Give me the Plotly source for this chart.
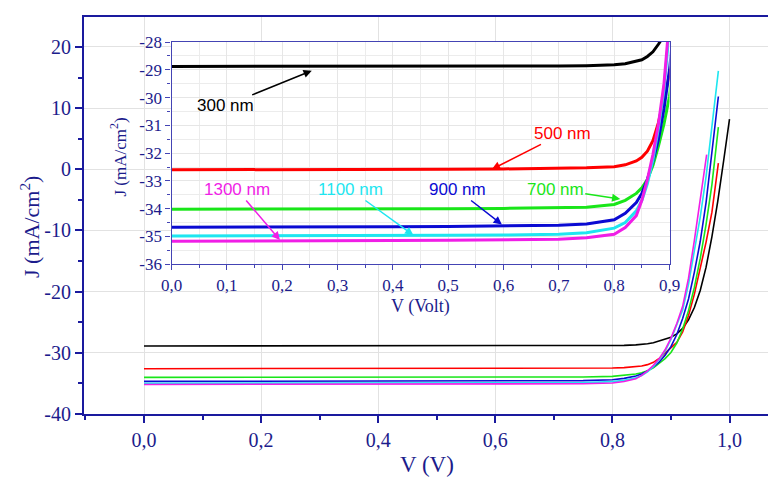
import plotly.graph_objects as go

# ---------------- data ----------------
labels = ["300 nm", "500 nm", "700 nm", "900 nm", "1100 nm", "1300 nm"]
colors = ["#000000", "#ff0000", "#19e619", "#0a0ad2", "#1ee6f0", "#f01ee6"]

V_300 = [0.0, 0.1, 0.2, 0.3, 0.4, 0.5, 0.6, 0.7, 0.75, 0.8, 0.82, 0.84, 0.85, 0.86, 0.87, 0.88, 0.89,
         0.90, 0.91, 0.92, 0.93, 0.94, 0.95, 0.96, 0.97, 0.98, 0.99, 1.0]
J_300 = [-28.88, -28.88, -28.88, -28.88, -28.88, -28.87, -28.87, -28.86, -28.85, -28.82, -28.78, -28.70,
         -28.64, -28.52, -28.35, -28.08, -27.75, -27.45, -26.9, -26.0, -24.6, -22.6, -19.8, -16.0, -11.0,
         -5.2, 1.4, 8.2]

V_500 = [0.0, 0.1, 0.2, 0.3, 0.4, 0.5, 0.6, 0.7, 0.75, 0.8, 0.82, 0.84, 0.85, 0.86, 0.87, 0.88, 0.89,
         0.90, 0.91, 0.92, 0.93, 0.94, 0.95, 0.96, 0.97, 0.981]
J_500 = [-32.60, -32.60, -32.59, -32.59, -32.58, -32.58, -32.57, -32.55, -32.53, -32.49, -32.42, -32.28,
         -32.15, -31.93, -31.55, -30.9, -30.0, -29.2, -28.3, -26.6, -23.9, -20.4, -16.3, -11.9, -7.0, 1.0]

V_700 = [0.0, 0.1, 0.2, 0.3, 0.4, 0.5, 0.6, 0.7, 0.75, 0.8, 0.82, 0.84, 0.85, 0.86, 0.87, 0.88, 0.89,
         0.90, 0.91, 0.92, 0.93, 0.94, 0.95, 0.96, 0.97, 0.981]
J_700 = [-34.02, -34.02, -34.01, -34.01, -34.00, -34.00, -33.99, -33.98, -33.95, -33.85, -33.70, -33.45,
         -33.25, -32.95, -32.45, -31.75, -30.95, -29.95, -28.4, -26.1, -23.1, -19.3, -14.6, -9.0, -2.5, 6.9]

V_900 = [0.0, 0.1, 0.2, 0.3, 0.4, 0.5, 0.6, 0.7, 0.75, 0.8, 0.82, 0.84, 0.85, 0.86, 0.87, 0.88, 0.89,
         0.90, 0.91, 0.92, 0.93, 0.94, 0.95, 0.96, 0.97, 0.981]
J_900 = [-34.67, -34.67, -34.66, -34.66, -34.65, -34.64, -34.63, -34.60, -34.55, -34.40, -34.17, -33.78,
         -33.45, -32.95, -32.30, -31.50, -30.40, -29.0, -27.0, -24.4, -21.2, -16.8, -11.8, -5.4, 2.9, 11.9]

V_1100 = [0.0, 0.1, 0.2, 0.3, 0.4, 0.5, 0.6, 0.7, 0.75, 0.8, 0.82, 0.84, 0.85, 0.86, 0.87, 0.88, 0.89,
          0.90, 0.91, 0.92, 0.93, 0.94, 0.95, 0.96, 0.97, 0.981]
J_1100 = [-34.98, -34.98, -34.97, -34.97, -34.96, -34.96, -34.95, -34.92, -34.87, -34.70, -34.50, -34.08,
          -33.70, -33.10, -32.25, -31.10, -29.70, -27.8, -25.4, -23.0, -18.8, -13.6, -7.8, -1.2, 6.9, 16.1]

V_1300 = [0.0, 0.1, 0.2, 0.3, 0.4, 0.5, 0.6, 0.7, 0.75, 0.8, 0.82, 0.84, 0.85, 0.86, 0.87, 0.88, 0.89,
          0.90, 0.91, 0.92, 0.93, 0.94, 0.95, 0.961]
J_1300 = [-35.17, -35.17, -35.16, -35.16, -35.15, -35.14, -35.13, -35.10, -35.05, -34.92, -34.68, -34.25,
          -33.70, -32.95, -32.05, -30.95, -29.50, -27.6, -25.2, -22.4, -17.8, -11.6, -5.0, 2.4]

series_V = [V_300, V_500, V_700, V_900, V_1100, V_1300]
series_J = [J_300, J_500, J_700, J_900, J_1100, J_1300]

# main-axis ticks
main_x_vals = [0.0, 0.2, 0.4, 0.6, 0.8, 1.0]
main_x_text = ["0,0", "0,2", "0,4", "0,6", "0,8", "1,0"]
main_y_vals = [-40, -30, -20, -10, 0, 10, 20]
main_y_text = ["-40", "-30", "-20", "-10", "0", "10", "20"]
# inset ticks
ins_x_vals = [0.0, 0.1, 0.2, 0.3, 0.4, 0.5, 0.6, 0.7, 0.8, 0.9]
ins_x_text = ["0,0", "0,1", "0,2", "0,3", "0,4", "0,5", "0,6", "0,7", "0,8", "0,9"]
ins_y_vals = [-36, -35, -34, -33, -32, -31, -30, -29, -28]
ins_y_text = ["-36", "-35", "-34", "-33", "-32", "-31", "-30", "-29", "-28"]

# inset labels: text centre and arrow head, in inset data units
lab_text_xy = [(0.097, -30.3), (0.707, -31.29), (0.6935, -33.31), (0.516, -33.31), (0.323, -33.31), (0.118, -33.31)]
arrow_head = [(0.2535, -29.03), (0.579, -32.58), (0.811, -33.65), (0.597, -34.57), (0.437, -34.95), (0.196, -35.13)]

# ---------------- figure ----------------
NAVY = "#1a1a9e"
TXT = "#1c1c8c"
INS = "#4444b4"
SERIF = "Liberation Serif"
SANS = "Liberation Sans"

fig = go.Figure()
for V, J, c, name in zip(series_V, series_J, colors, labels):
    fig.add_trace(go.Scatter(x=V, y=J, mode="lines", line=dict(color=c, width=1.6),
                             xaxis="x", yaxis="y", name=name, showlegend=False))
for V, J, c, name in zip(series_V, series_J, colors, labels):
    fig.add_trace(go.Scatter(x=V, y=J, mode="lines", line=dict(color=c, width=3),
                             xaxis="x2", yaxis="y2", name=name, showlegend=False))

annotations = []
for (tx, ty), (hx, hy), c, name in zip(lab_text_xy, arrow_head, colors, labels):
    annotations.append(dict(x=hx, y=hy, ax=tx, ay=ty, xref="x2", yref="y2", axref="x2", ayref="y2",
                            text=name, showarrow=True, arrowhead=2, arrowsize=1.1, arrowwidth=1.5,
                            arrowcolor=c, xanchor="center", yanchor="middle",
                            font=dict(family=SANS, size=17, color=c)))

# axis titles
annotations += [
    dict(x=-0.0784, y=0.471, xref="paper", yref="paper", text="J (mA/cm<sup>2</sup>)", textangle=-90,
         xanchor="center", yanchor="middle",
         showarrow=False, font=dict(family=SERIF, size=22, color=TXT)),
    dict(x=0.4978, y=-0.127, xref="paper", yref="paper", text="V (V)", showarrow=False,
         xanchor="center", yanchor="middle",
         font=dict(family=SERIF, size=23, color=TXT)),
    dict(x=0.4877, y=0.272, xref="paper", yref="paper", text="V (Volt)", showarrow=False,
         xanchor="center", yanchor="middle",
         font=dict(family=SERIF, size=18, color=TXT)),
    dict(x=0.0494, y=0.646, xref="paper", yref="paper", text="J (mA/cm<sup>2</sup>)", textangle=-90,
         xanchor="center", yanchor="middle",
         showarrow=False, font=dict(family=SERIF, size=17, color=TXT)),
]

fig.update_layout(
    width=776, height=473,
    margin=dict(l=76, r=0, t=1, b=67),
    paper_bgcolor="white", plot_bgcolor="white",
    showlegend=False,
    xaxis=dict(domain=[0, 1], range=[-0.1025, 1.0743], tickvals=main_x_vals, ticktext=main_x_text,
               ticks="outside", ticklen=7, tickwidth=2, tickcolor=NAVY,
               minor=dict(dtick=0.1, tick0=0, ticks="outside", ticklen=4, tickwidth=2, tickcolor=NAVY),
               showline=True, linecolor=NAVY, linewidth=2, mirror=True,
               showgrid=True, gridcolor="#e2e2e2", gridwidth=1, zeroline=False,
               tickfont=dict(family=SERIF, size=20, color=TXT), anchor="y"),
    yaxis=dict(domain=[0, 1], range=[-40, 24.9], tickvals=main_y_vals, ticktext=main_y_text,
               ticks="outside", ticklen=7, tickwidth=2, tickcolor=NAVY,
               minor=dict(dtick=5, tick0=0, ticks="outside", ticklen=4, tickwidth=2, tickcolor=NAVY),
               showline=True, linecolor=NAVY, linewidth=2, mirror=False,
               showgrid=True, gridcolor="#e2e2e2", gridwidth=1, zeroline=False,
               tickfont=dict(family=SERIF, size=20, color=TXT), anchor="x"),
    xaxis2=dict(domain=[0.1270, 0.8498], range=[0, 0.9], tickvals=ins_x_vals, ticktext=ins_x_text,
                ticks="outside", ticklen=5, tickwidth=1, tickcolor=INS,
                minor=dict(dtick=0.05, tick0=0, ticks="outside", ticklen=3, tickcolor=INS,
                           showgrid=True, gridcolor="#ececec", gridwidth=1),
                showline=True, linecolor=INS, linewidth=1.3, mirror=True,
                showgrid=True, gridcolor="#e6e6e6", gridwidth=1, zeroline=False,
                tickfont=dict(family=SERIF, size=17, color=TXT), anchor="y2"),
    yaxis2=dict(domain=[0.3773, 0.9369], range=[-36, -28], tickvals=ins_y_vals, ticktext=ins_y_text,
                ticks="outside", ticklen=5, tickwidth=1, tickcolor=INS,
                minor=dict(dtick=0.5, tick0=0, ticks="outside", ticklen=3, tickcolor=INS,
                           showgrid=True, gridcolor="#ececec", gridwidth=1),
                showline=True, linecolor=INS, linewidth=1.3, mirror=True,
                showgrid=True, gridcolor="#e6e6e6", gridwidth=1, zeroline=False,
                tickfont=dict(family=SERIF, size=17, color=TXT), anchor="x2"),
    annotations=annotations,
)

fig.write_html("out.html")
